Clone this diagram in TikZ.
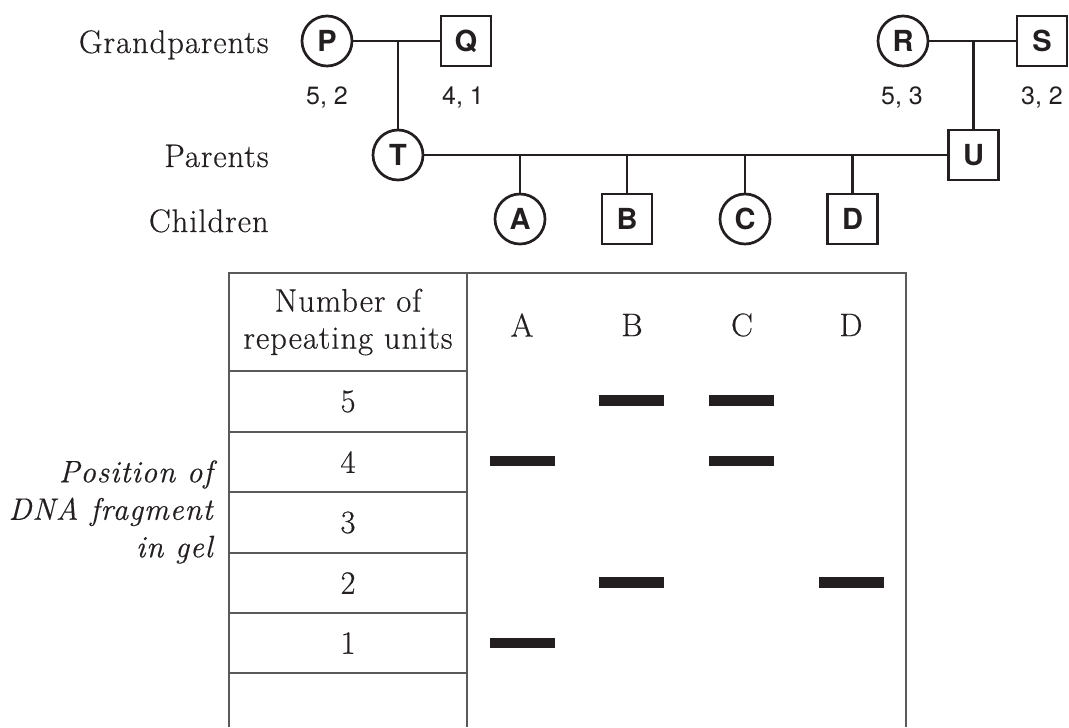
\documentclass[tikz,border=0pt]{standalone}
\usepackage{fontspec}
\newfontfamily\hv{TeX Gyre Heros}
\newfontfamily\gar{Latin Modern Roman}[LetterSpace=3,FakeBold=0.5]
\definecolor{ink}{HTML}{231F20}
\definecolor{rule}{HTML}{5A5A5A}
\begin{document}
\begin{tikzpicture}[x=0.5pt,y=-0.5pt,
  ped/.style={draw=ink,line width=1.35pt,inner sep=0pt,minimum size=25pt,
    font=\hv\bfseries\fontsize{14.5}{15}\selectfont,text=ink},
  fem/.style={ped,circle},
  mal/.style={ped,rectangle},
  link/.style={draw=ink,line width=1.35pt},
  geno/.style={font=\hv\fontsize{12.5}{13}\selectfont,text=ink,inner sep=0pt},
  gen/.style={font=\gar\fontsize{16.3}{18}\selectfont,text=ink,inner sep=0pt,anchor=base east},
  cell/.style={font=\gar\fontsize{16.3}{18.5}\selectfont,text=ink,inner sep=0pt,align=center},
  grid/.style={draw=rule,line width=0.65pt},
  band/.style={fill=ink,draw=none,minimum width=32.5pt,minimum height=5.2pt,inner sep=0pt}]
\useasboundingbox (0,0) rectangle (1069,727);
% generation labels
\node[gen] (lg) at (269,53) {Grandparents};
\node[gen] (lp) at (269,167) {Parents};
\node[gen] (lc) at (269,232) {Children};
% pedigree
\node[fem] (P) at (327,41) {P};
\node[mal] (Q) at (466,41) {Q};
\node[fem] (R) at (903,41) {R};
\node[mal] (S) at (1042,41) {S};
\node[fem] (T) at (398,155) {T};
\node[mal] (U) at (973.5,155) {U};
\node[fem] (A) at (520,219) {A};
\node[mal] (B) at (627,219) {B};
\node[fem] (C) at (745,219) {C};
\node[mal] (D) at (852.5,219) {D};
\node[geno] (gP) at (327,97) {5, 2};
\node[geno] (gQ) at (463,97) {4, 1};
\node[geno] (gR) at (902,97) {5, 3};
\node[geno] (gS) at (1042,97) {3, 2};
\draw[link] (P) -- (Q);
\draw[link] (R) -- (S);
\draw[link] (T) -- (U);
\draw[link] (T |- P) -- (T);
\draw[link] (U |- R) -- (U);
\foreach \k in {A,B,C,D} \draw[link] (\k |- T) -- (\k);
% table grid
\coordinate (tl) at (229,273);
\coordinate (tm) at (467,273);
\coordinate (tr) at (906,273);
\coordinate (bl) at (229,727);
\coordinate (bm) at (467,727);
\coordinate (br) at (906,727);
\draw[grid] (bl) -- (tl) -- (tr) -- (br);
\draw[grid] (tm) -- (bm);
\foreach \yy in {371,432,492,553,613,673} \draw[grid] (229,\yy) -- (467,\yy);
% table text
\node[cell] (hd) at (348,322) {Number of\\repeating units};
\node[cell] (hA) at (522,325) {A};
\node[cell] (hB) at (632,325) {B};
\node[cell] (hC) at (742,325) {C};
\node[cell] (hD) at (851,325) {D};
\node[cell] (r5) at (348,401.5) {5};
\node[cell] (r4) at (348,462) {4};
\node[cell] (r3) at (348,522.5) {3};
\node[cell] (r2) at (348,583) {2};
\node[cell] (r1) at (348,643) {1};
\node[cell,align=right,anchor=east,font=\gar\itshape\fontsize{15.5}{18.75}\selectfont] (pos) at (213,512) {Position of\\DNA fragment\\in gel};
% bands
\node[band] (bA4) at (522.5,461) {};
\node[band] (bA1) at (522.5,643) {};
\node[band] (bB5) at (631.5,400.5) {};
\node[band] (bB2) at (631.5,582.5) {};
\node[band] (bC5) at (741.5,400.5) {};
\node[band] (bC4) at (741.5,461) {};
\node[band] (bD2) at (851.5,582.5) {};
\end{tikzpicture}
\end{document}
